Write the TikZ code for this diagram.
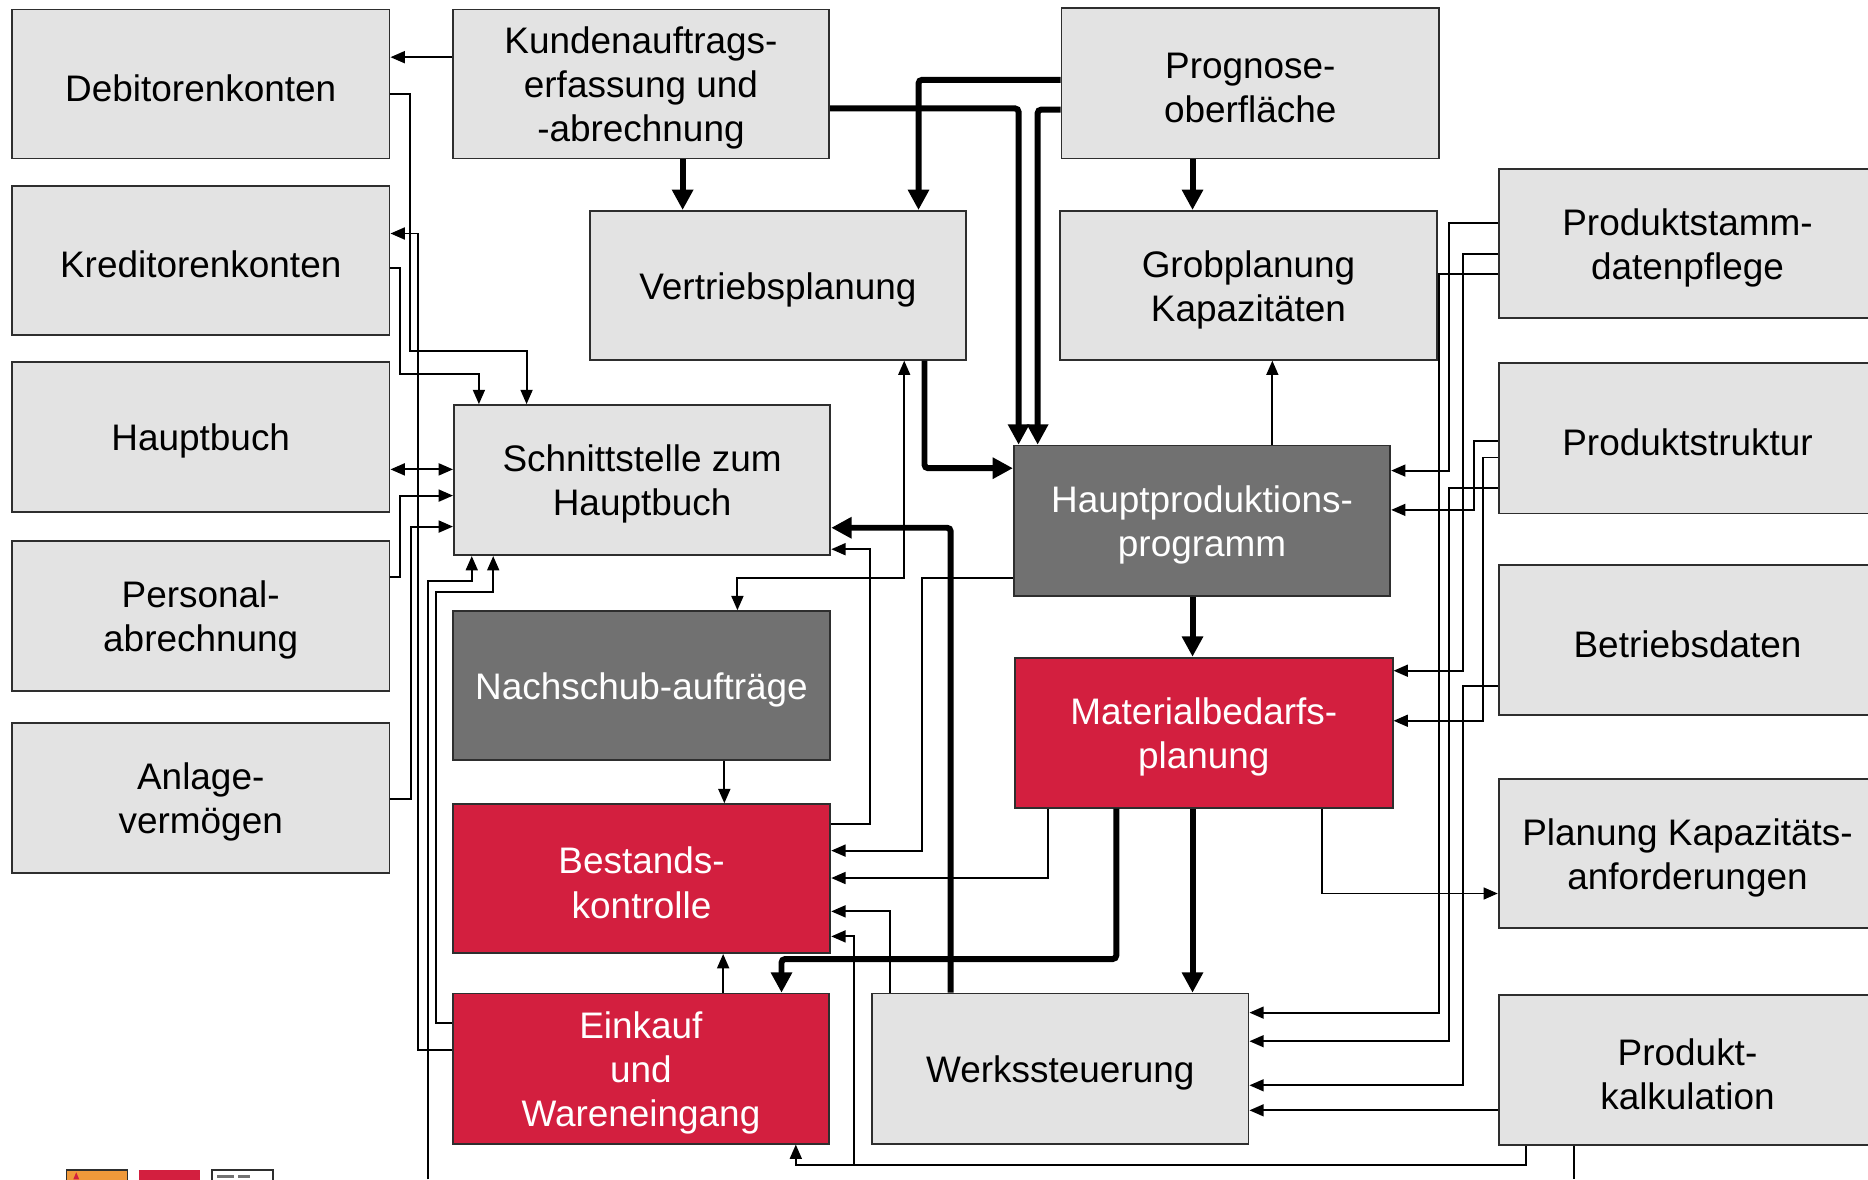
\documentclass[tikz,border=0pt]{standalone}
\usepackage{fontspec}
\setmainfont{Liberation Sans}
\usetikzlibrary{arrows.meta}
\definecolor{boxgray}{HTML}{E3E3E3}
\definecolor{boxdark}{HTML}{717171}
\definecolor{boxred}{HTML}{D31F3F}
\definecolor{edgecol}{HTML}{2E2E2E}
\definecolor{logoorange}{HTML}{F0993A}
\newcommand{\mybox}[5]{%
  \node[#1,#2] (#3) at #4 {};
  \node[txt#1] (#3-t) at ([yshift=-3.5pt]#3.center) {#5};}
\begin{document}
\begin{tikzpicture}[x=1pt,y=-1pt,
 base/.style={rectangle, draw=edgecol, line width=1.5pt, minimum width=317pt, minimum height=126pt, inner sep=0pt},
 gbox/.style={base, fill=boxgray},
 dbox/.style={base, fill=boxdark},
 rbox/.style={base, fill=boxred},
 txtbase/.style={align=center, inner sep=0pt, font=\fontsize{31}{37}\selectfont},
 txtgbox/.style={txtbase, text=black},
 txtdbox/.style={txtbase, text=white},
 txtrbox/.style={txtbase, text=white},
 thinarrow/.style={line width=1.6pt, -{Triangle[length=12pt,width=10pt]}},
 thinline/.style={line width=1.6pt},
 thinboth/.style={line width=1.6pt, {Triangle[length=12pt,width=10pt]}-{Triangle[length=12pt,width=10pt]}},
 fatarrow/.style={line width=5pt, rounded corners=3pt, -{Triangle[length=17pt,width=17pt]}},
]
\useasboundingbox (0,0) rectangle (1568,990);
\clip (0,0) rectangle (1568,990);

% left column
\mybox{gbox}{minimum height=125pt}{deb}{(168.5,70.5)}{Debitorenkonten}
\mybox{gbox}{minimum height=125pt}{kred}{(168.5,218.5)}{Kreditorenkonten}
\mybox{gbox}{}{haupt}{(168.5,367)}{Hauptbuch}
\mybox{gbox}{}{pers}{(168.5,517)}{Personal-\\abrechnung}
\mybox{gbox}{}{anl}{(168.5,670)}{Anlage-\\vermögen}

% middle-left column
\mybox{gbox}{minimum width=316pt, minimum height=125pt}{kund}{(538,70.5)}{Kundenauftrags-\\erfassung und\\-abrechnung}
\mybox{gbox}{minimum width=316pt, minimum height=125pt}{vert}{(653,239.5)}{Vertriebsplanung}
\mybox{gbox}{minimum width=316pt}{schnitt}{(539,403)}{Schnittstelle zum\\Hauptbuch}
\mybox{dbox}{minimum height=125pt}{nach}{(538.5,575.5)}{Nachschub-aufträge}
\mybox{rbox}{minimum height=125pt}{best}{(538.5,737.5)}{Bestands-\\kontrolle}
\mybox{rbox}{minimum width=316pt}{eink}{(538,897)}{Einkauf\\und\\Wareneingang}
\mybox{gbox}{minimum width=316pt}{werk}{(890,897)}{Werkssteuerung}

% middle-right column
\mybox{gbox}{}{prog}{(1049.5,70)}{Prognose-\\oberfläche}
\mybox{gbox}{minimum width=316pt, minimum height=125pt}{grob}{(1048,239.5)}{Grobplanung\\Kapazitäten}
\mybox{dbox}{minimum width=316pt}{hpp}{(1009,437)}{Hauptproduktions-\\programm}
\mybox{rbox}{}{mat}{(1010.5,615)}{Materialbedarfs-\\planung}

% right column
\mybox{gbox}{minimum height=125pt}{pstamm}{(1416.5,204.5)}{Produktstamm-\\datenpflege}
\mybox{gbox}{}{pstrukt}{(1416.5,368)}{Produktstruktur}
\mybox{gbox}{}{betr}{(1416.5,537)}{Betriebsdaten}
\mybox{gbox}{minimum height=125pt}{plankap}{(1416.5,716.5)}{Planung Kapazitäts-\\anforderungen}
\mybox{gbox}{}{pkalk}{(1416.5,898)}{Produkt-\\kalkulation}

% free ends at the picture border
\coordinate (offA) at (359,990);
\coordinate (offB) at (1321,990);
\coordinate (junc) at (717,978);

% thin connectors, left bus
\draw[thinarrow] (kund.west |- 0,48) -- (deb.east |- 0,48);
\draw[thinarrow] (deb.east |- 0,79) -- (344,79) -- (344,295) -- (442,295) -- (442,0 |- schnitt.north);
\draw[thinarrow] (kred.east |- 0,225) -- (336,225) -- (336,314) -- (402,314) -- (402,0 |- schnitt.north);
\draw[thinarrow] (eink.west |- 0,881) -- (351,881) -- (351,196) -- (kred.east |- 0,196);
\draw[thinboth] (haupt.east |- 0,394) -- (schnitt.west |- 0,394);
\draw[thinarrow] (pers.east |- 0,484) -- (336,484) -- (336,416) -- (schnitt.west |- 0,416);
\draw[thinarrow] (anl.east |- 0,671) -- (345,671) -- (345,442) -- (schnitt.west |- 0,442);
\draw[thinarrow] (eink.west |- 0,859) -- (366,859) -- (366,497) -- (414,497) -- (414,0 |- schnitt.south);
\draw[thinarrow] (offA) -- (359,488) -- (396,488) -- (396,0 |- schnitt.south);

% thin connectors, middle
\draw[thinboth] (619,0 |- nach.north) -- (619,485) -- (759,485) -- (759,0 |- vert.south);
\draw[thinarrow] (hpp.west |- 0,485) -- (774,485) -- (774,714) -- (best.east |- 0,714);
\draw[thinarrow] (best.east |- 0,692) -- (730,692) -- (730,461) -- (schnitt.east |- 0,461);
\draw[thinarrow] (608,0 |- nach.south) -- (608,0 |- best.north);
\draw[thinarrow] (607,0 |- eink.north) -- (607,0 |- best.south);
\draw[thinarrow] (880,0 |- mat.south) -- (880,737) -- (best.east |- 0,737);
\draw[thinarrow] (747,0 |- werk.north) -- (747,765) -- (best.east |- 0,765);
\draw[thinarrow] (1281,0 |- pkalk.south) -- (1281,978) -- (668,978) -- (668,0 |- eink.south);
\draw[thinarrow] (junc) -- (717,786) -- (best.east |- 0,786);
\draw[thinline] (1321,0 |- pkalk.south) -- (offB);
\draw[thinarrow] (1068,0 |- hpp.north) -- (1068,0 |- grob.south);
\draw[thinarrow] (1110,0 |- mat.south) -- (1110,750) -- (plankap.west |- 0,750);

% thin connectors, right bus
\draw[thinarrow] (pstamm.west |- 0,187) -- (1216,187) -- (1216,395) -- (hpp.east |- 0,395);
\draw[thinarrow] (pstamm.west |- 0,213) -- (1228,213) -- (1228,563) -- (mat.east |- 0,563);
\draw[thinarrow] (pstamm.west |- 0,230) -- (1208,230) -- (1208,850) -- (werk.east |- 0,850);
\draw[thinarrow] (pstrukt.west |- 0,370) -- (1237,370) -- (1237,428) -- (hpp.east |- 0,428);
\draw[thinarrow] (pstrukt.west |- 0,384) -- (1245,384) -- (1245,605) -- (mat.east |- 0,605);
\draw[thinarrow] (pstrukt.west |- 0,410) -- (1216,410) -- (1216,874) -- (werk.east |- 0,874);
\draw[thinarrow] (betr.west |- 0,576) -- (1228,576) -- (1228,911) -- (werk.east |- 0,911);
\draw[thinarrow] (pkalk.west |- 0,932) -- (werk.east |- 0,932);

% thick connectors
\draw[fatarrow] (573,0 |- kund.south) -- (573,0 |- vert.north);
\draw[fatarrow] (prog.west |- 0,67) -- (771,67) -- (771,0 |- vert.north);
\draw[fatarrow] (kund.east |- 0,91) -- (855,91) -- (855,0 |- hpp.north);
\draw[fatarrow] (prog.west |- 0,92) -- (871,92) -- (871,0 |- hpp.north);
\draw[fatarrow] (1001,0 |- prog.south) -- (1001,0 |- grob.north);
\draw[fatarrow] (776,0 |- vert.south) -- (776,393) -- (hpp.west |- 0,393);
\draw[fatarrow] (798,0 |- werk.north) -- (798,443) -- (schnitt.east |- 0,443);
\draw[fatarrow] (1001,0 |- hpp.south) -- (1001,0 |- mat.north);
\draw[fatarrow] (937,0 |- mat.south) -- (937,805) -- (656,805) -- (656,0 |- eink.north);
\draw[fatarrow] (1001,0 |- mat.south) -- (1001,0 |- werk.north);

% logo fragments at the bottom edge
\filldraw[fill=logoorange, draw=edgecol, line width=1.2pt] (56,982) rectangle (107,996);
\fill[boxred] (64,984) -- (61.5,990) -- (66.5,990) -- cycle;
\fill[boxred] (117,982) rectangle (168,996);
\filldraw[fill=white, draw=edgecol, line width=1.2pt] (178,982) rectangle (229,996);
\fill[boxdark] (182,986) rectangle (196,989);
\fill[boxdark] (200,986) rectangle (210,989);
\end{tikzpicture}
\end{document}
